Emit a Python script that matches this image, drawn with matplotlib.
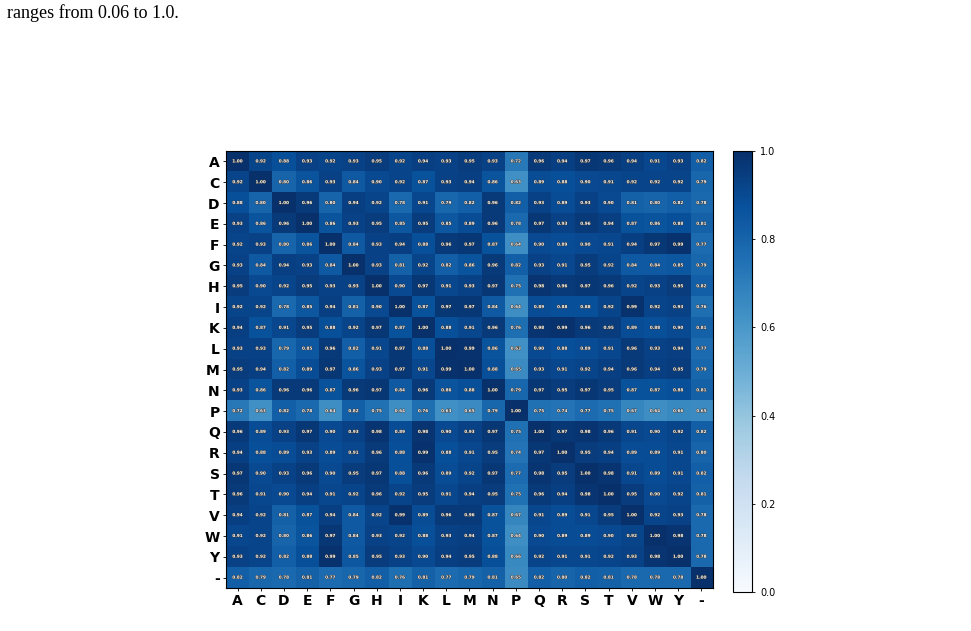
import matplotlib
matplotlib.use("Agg")
import matplotlib.pyplot as plt
import matplotlib.patheffects as pe
import numpy as np

residues = ['A', 'C', 'D', 'E', 'F', 'G', 'H', 'I', 'K', 'L', 'M',
            'N', 'P', 'Q', 'R', 'S', 'T', 'V', 'W', 'Y', '-']

row_A = [1.00, 0.92, 0.88, 0.93, 0.92, 0.93, 0.95, 0.92, 0.94, 0.93, 0.95, 0.93, 0.72, 0.96, 0.94, 0.97, 0.96, 0.94, 0.91, 0.93, 0.82]
row_C = [0.92, 1.00, 0.80, 0.86, 0.93, 0.84, 0.90, 0.92, 0.87, 0.93, 0.94, 0.86, 0.63, 0.89, 0.88, 0.90, 0.91, 0.92, 0.92, 0.92, 0.79]
row_D = [0.88, 0.80, 1.00, 0.96, 0.80, 0.94, 0.92, 0.78, 0.91, 0.79, 0.82, 0.96, 0.82, 0.93, 0.89, 0.93, 0.90, 0.81, 0.80, 0.82, 0.78]
row_E = [0.93, 0.86, 0.96, 1.00, 0.86, 0.93, 0.95, 0.85, 0.95, 0.85, 0.89, 0.96, 0.78, 0.97, 0.93, 0.96, 0.94, 0.87, 0.86, 0.88, 0.81]
row_F = [0.92, 0.93, 0.80, 0.86, 1.00, 0.84, 0.93, 0.94, 0.88, 0.96, 0.97, 0.87, 0.64, 0.90, 0.89, 0.90, 0.91, 0.94, 0.97, 0.99, 0.77]
row_G = [0.93, 0.84, 0.94, 0.93, 0.84, 1.00, 0.93, 0.81, 0.92, 0.82, 0.86, 0.96, 0.82, 0.93, 0.91, 0.95, 0.92, 0.84, 0.84, 0.85, 0.79]
row_H = [0.95, 0.90, 0.92, 0.95, 0.93, 0.93, 1.00, 0.90, 0.97, 0.91, 0.93, 0.97, 0.75, 0.98, 0.96, 0.97, 0.96, 0.92, 0.93, 0.95, 0.82]
row_I = [0.92, 0.92, 0.78, 0.85, 0.94, 0.81, 0.90, 1.00, 0.87, 0.97, 0.97, 0.84, 0.64, 0.89, 0.88, 0.88, 0.92, 0.99, 0.92, 0.93, 0.76]
row_K = [0.94, 0.87, 0.91, 0.95, 0.88, 0.92, 0.97, 0.87, 1.00, 0.88, 0.91, 0.96, 0.76, 0.98, 0.99, 0.96, 0.95, 0.89, 0.88, 0.90, 0.81]
row_L = [0.93, 0.93, 0.79, 0.85, 0.96, 0.82, 0.91, 0.97, 0.88, 1.00, 0.99, 0.86, 0.63, 0.90, 0.88, 0.89, 0.91, 0.96, 0.93, 0.94, 0.77]
row_M = [0.95, 0.94, 0.82, 0.89, 0.97, 0.86, 0.93, 0.97, 0.91, 0.99, 1.00, 0.88, 0.65, 0.93, 0.91, 0.92, 0.94, 0.96, 0.94, 0.95, 0.79]
row_N = [0.93, 0.86, 0.96, 0.96, 0.87, 0.96, 0.97, 0.84, 0.96, 0.86, 0.88, 1.00, 0.79, 0.97, 0.95, 0.97, 0.95, 0.87, 0.87, 0.88, 0.81]
row_P = [0.72, 0.63, 0.82, 0.78, 0.64, 0.82, 0.75, 0.64, 0.76, 0.63, 0.65, 0.79, 1.00, 0.75, 0.74, 0.77, 0.75, 0.67, 0.64, 0.66, 0.65]
row_Q = [0.96, 0.89, 0.93, 0.97, 0.90, 0.93, 0.98, 0.89, 0.98, 0.90, 0.93, 0.97, 0.75, 1.00, 0.97, 0.98, 0.96, 0.91, 0.90, 0.92, 0.82]
row_R = [0.94, 0.88, 0.89, 0.93, 0.89, 0.91, 0.96, 0.88, 0.99, 0.88, 0.91, 0.95, 0.74, 0.97, 1.00, 0.95, 0.94, 0.89, 0.89, 0.91, 0.80]
row_S = [0.97, 0.90, 0.93, 0.96, 0.90, 0.95, 0.97, 0.88, 0.96, 0.89, 0.92, 0.97, 0.77, 0.98, 0.95, 1.00, 0.98, 0.91, 0.89, 0.91, 0.82]
row_T = [0.96, 0.91, 0.90, 0.94, 0.91, 0.92, 0.96, 0.92, 0.95, 0.91, 0.94, 0.95, 0.75, 0.96, 0.94, 0.98, 1.00, 0.95, 0.90, 0.92, 0.81]
row_V = [0.94, 0.92, 0.81, 0.87, 0.94, 0.84, 0.92, 0.99, 0.89, 0.96, 0.96, 0.87, 0.67, 0.91, 0.89, 0.91, 0.95, 1.00, 0.92, 0.93, 0.78]
row_W = [0.91, 0.92, 0.80, 0.86, 0.97, 0.84, 0.93, 0.92, 0.88, 0.93, 0.94, 0.87, 0.64, 0.90, 0.89, 0.89, 0.90, 0.92, 1.00, 0.98, 0.78]
row_Y = [0.93, 0.92, 0.82, 0.88, 0.99, 0.85, 0.95, 0.93, 0.90, 0.94, 0.95, 0.88, 0.66, 0.92, 0.91, 0.91, 0.92, 0.93, 0.98, 1.00, 0.78]
row_gap = [0.82, 0.79, 0.78, 0.81, 0.77, 0.79, 0.82, 0.76, 0.81, 0.77, 0.79, 0.81, 0.65, 0.82, 0.80, 0.82, 0.81, 0.78, 0.78, 0.78, 1.00]

caption_top = 'ranges from 0.06 to 1.0.'


def plot_similarity():
    mat = np.array([row_A, row_C, row_D, row_E, row_F, row_G, row_H, row_I, row_K, row_L, row_M,
                    row_N, row_P, row_Q, row_R, row_S, row_T, row_V, row_W, row_Y, row_gap])
    n = len(residues)

    fig = plt.figure(figsize=(9.71, 6.31), dpi=100)
    ax = fig.add_axes([0.2327, 0.0681, 0.5016, 0.6926])
    cax = fig.add_axes([0.7549, 0.0618, 0.0196, 0.6989])

    im = ax.imshow(mat, cmap='Blues', vmin=0.0, vmax=1.0, aspect='auto', interpolation='nearest')

    # tiny white annotations with a dark outline
    for i in range(n):
        for j in range(n):
            ax.text(j, i, f'{mat[i, j]:.2f}', ha='center', va='center',
                    fontsize=3.0, color='white', fontweight='bold',
                    path_effects=[pe.withStroke(linewidth=0.6, foreground='#333333')])

    ax.set_xticks(np.arange(n))
    ax.set_yticks(np.arange(n))
    ax.set_xticklabels(residues, fontsize=10, fontweight='bold')
    ax.set_yticklabels(residues, fontsize=10, fontweight='bold')
    ax.tick_params(length=2.5, width=0.6, pad=2)

    cb = fig.colorbar(im, cax=cax)
    cb.set_ticks([0.0, 0.2, 0.4, 0.6, 0.8, 1.0])
    cb.ax.tick_params(labelsize=7, length=2.5, width=0.6)

    fig.text(0.007, 0.993, caption_top, fontsize=13, family='Liberation Serif',
             ha='left', va='top')

    fig.savefig('out.png', dpi=100)


if __name__ == '__main__':
    plot_similarity()
